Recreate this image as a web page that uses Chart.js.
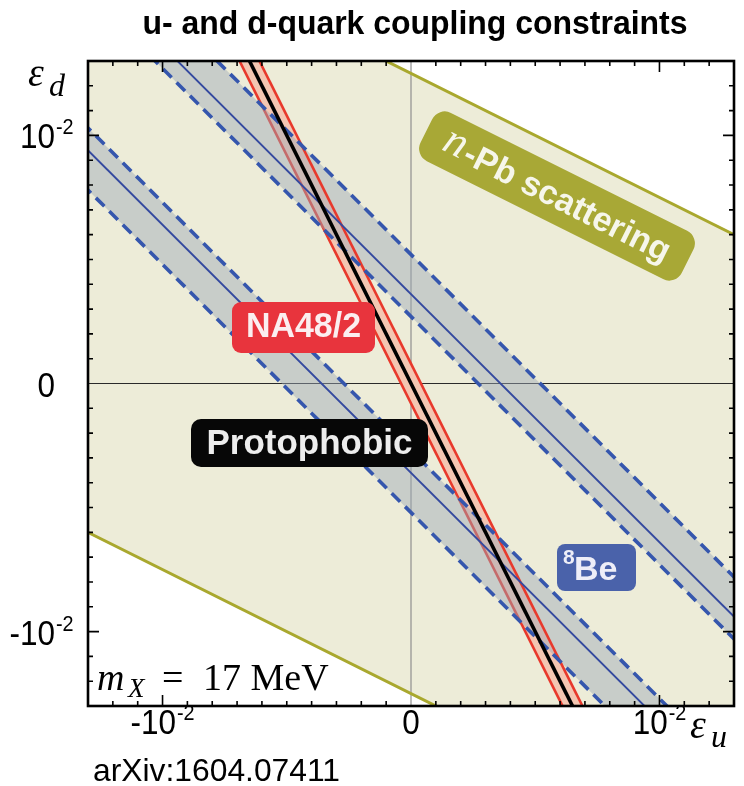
<!DOCTYPE html>
<html>
<head>
<meta charset="utf-8">
<title>u- and d-quark coupling constraints</title>
<script src="https://cdn.jsdelivr.net/npm/chart.js"></script>
<style>
body { margin: 0; background: #fff; }
.canvas_div { width: 744px; height: 786px; }
</style>
</head>
<body>
<div class="canvas_div">
    <canvas id="myChart" width="744" height="786"></canvas>
</div>
<script>
// eps_u at the two ends of every line (beyond the frame, clipped away)
const epsU = [-0.03, 0.03];
// eps_d of each constraint line at those two eps_u values
const nPbLow      = [0.0025, -0.0275];   // n-Pb scattering, lower edge
const nPbHigh     = [0.0275, -0.0025];   // n-Pb scattering, upper edge
const na48Left    = [0.0592, -0.0608];   // NA48/2 edges
const na48Right   = [0.0608, -0.0592];
const protophobic = [0.06, -0.06];
const be8NegOuter  = [0.0248, -0.0352];  // 8Be band, negative side
const be8NegCenter = [0.0264, -0.0336];
const be8NegInner  = [0.0273, -0.0327];
const be8PosInner  = [0.0327, -0.0273];  // 8Be band, positive side
const be8PosCenter = [0.0336, -0.0264];
const be8PosOuter  = [0.0352, -0.0248];
// axis range and labelled ticks
const axisMin = -0.013, axisMax = 0.013;
const tickValues = [-0.01, 0, 0.01];
const tickBase = ['-10', '0', '10'];
const tickExp  = ['-2', '', '-2'];

const BEIGE = '#edecd8';
const OLIVE = '#a9a82e';
const PINK  = '#f4c6b2';
const RED   = '#e8392c';
const GRAY  = 'rgba(155,168,185,0.45)';
const BLUE  = '#3556ad';

const pts = arr => epsU.map((u, i) => ({x: u, y: arr[i]}));

const dash = {borderColor: BLUE, borderWidth: 3.6, borderDash: [12, 7]};
const datasets = [
    {data: pts(nPbLow)},                                            // 0
    {data: pts(nPbHigh), fill: 0, backgroundColor: BEIGE},          // 1
    {data: pts(na48Left)},                                          // 2
    {data: pts(na48Right), fill: 2, backgroundColor: PINK},         // 3
    {data: pts(na48Left), borderColor: RED, borderWidth: 2.6},      // 4
    {data: pts(be8NegOuter)},                                       // 5
    {data: pts(be8NegInner), fill: 5, backgroundColor: GRAY},       // 6
    {data: pts(be8PosInner)},                                       // 7
    {data: pts(be8PosOuter), fill: 7, backgroundColor: GRAY},       // 8
    {data: pts(nPbLow), borderColor: OLIVE, borderWidth: 3},
    {data: pts(nPbHigh), borderColor: OLIVE, borderWidth: 3},
    {data: pts(na48Right), borderColor: RED, borderWidth: 2.6},
    {data: pts(be8NegCenter), borderColor: '#34499f', borderWidth: 1.9},
    {data: pts(be8PosCenter), borderColor: '#34499f', borderWidth: 1.9},
    Object.assign({data: pts(be8NegOuter)}, dash),
    Object.assign({data: pts(be8NegInner)}, dash),
    Object.assign({data: pts(be8PosInner)}, dash),
    Object.assign({data: pts(be8PosOuter)}, dash),
    {data: pts(protophobic), borderColor: '#000', borderWidth: 3.6}
];
datasets.forEach(function(d, i) {
    d.order = datasets.length - i;   // first in list is drawn first (lowest)
    d.pointRadius = 0;
    d.clip = 0;
    d.tension = 0;
    if (d.fill === undefined) d.fill = false;
    if (d.borderWidth === undefined) { d.borderWidth = 0; d.borderColor = 'transparent'; }
});

// text helper, sx squeezes horizontally
function txt(ctx, s, x, y, font, color, align, sx) {
    sx = sx || 1;
    ctx.save();
    ctx.font = font;
    ctx.fillStyle = color;
    ctx.textAlign = 'left';
    ctx.textBaseline = 'alphabetic';
    const w = ctx.measureText(s).width * sx;
    const x0 = align === 'center' ? x - w / 2 : (align === 'right' ? x - w : x);
    ctx.translate(x0, y);
    ctx.scale(sx, 1);
    ctx.fillText(s, 0, 0);
    ctx.restore();
    return w;
}
function fitSx(ctx, s, font, width) {
    ctx.save();
    ctx.font = font;
    const w = ctx.measureText(s).width;
    ctx.restore();
    return width / w;
}
function box(ctx, x, y, w, h, r, color) {
    ctx.beginPath();
    ctx.roundRect(x, y, w, h, r);
    ctx.fillStyle = color;
    ctx.fill();
}

const SANS = '"Liberation Sans", Arial, sans-serif';
const SERIF = '"Liberation Serif", "Times New Roman", serif';

const decor = {
    id: 'decor',
    beforeDatasetDraw(chart, args) {
        if (args.index !== 2) return;   // right after the n-Pb fill
        const {ctx, chartArea: a, scales: {x, y}} = chart;
        ctx.save();
        ctx.lineWidth = 1.2;
        ctx.strokeStyle = '#8f8f8f';
        const x0 = x.getPixelForValue(0);
        ctx.beginPath(); ctx.moveTo(x0, a.top); ctx.lineTo(x0, a.bottom); ctx.stroke();
        ctx.strokeStyle = '#2a2a2a';
        const y0 = y.getPixelForValue(0);
        ctx.beginPath(); ctx.moveTo(a.left, y0); ctx.lineTo(a.right, y0); ctx.stroke();
        ctx.restore();
    },
    afterDraw(chart) {
        const {ctx, chartArea: a, scales: {x, y}} = chart;
        ctx.save();

        // label boxes
        box(ctx, 232, 302, 143, 51, 9, '#e8343d');
        txt(ctx, 'NA48/2', 303.5, 337, 'bold 35px ' + SANS, '#fbeef0', 'center', 0.97);

        box(ctx, 191, 419, 237, 48, 10, '#070707');
        txt(ctx, 'Protophobic', 309.5, 454, 'bold 35px ' + SANS, '#ededed', 'center', 1.0);

        box(ctx, 557, 544, 79, 47, 8, '#4a62aa');
        txt(ctx, '8', 563, 563.5, 'bold 21px ' + SANS, '#eeeef8', 'left');
        txt(ctx, 'Be', 574, 579.5, 'bold 34px ' + SANS, '#eeeef8', 'left');

        // n-Pb box rotated along the n-Pb edge
        const ang = Math.atan2(y.getPixelForValue(nPbHigh[1]) - y.getPixelForValue(nPbHigh[0]),
                               x.getPixelForValue(epsU[1]) - x.getPixelForValue(epsU[0]));
        ctx.save();
        ctx.translate(557, 196);
        ctx.rotate(ang);
        box(ctx, -146, -27, 292, 54, 14, '#a8a836');
        ctx.font = 'italic 44px ' + SERIF;
        const wn = ctx.measureText('n').width;
        ctx.font = 'bold 34px ' + SANS;
        const wr = ctx.measureText('-Pb scattering').width;
        const start = -(wn + 2 + wr) / 2;
        txt(ctx, 'n', start, 10, 'italic 44px ' + SERIF, '#f6f6ea', 'left');
        txt(ctx, '-Pb scattering', start + wn + 2, 12, 'bold 34px ' + SANS, '#f6f6ea', 'left');
        ctx.restore();

        // frame
        ctx.strokeStyle = '#000';
        ctx.lineWidth = 2.6;
        ctx.strokeRect(a.left, a.top, a.width, a.height);

        // inward ticks on all sides, minor every 0.001
        ctx.lineWidth = 1.6;
        ctx.beginPath();
        for (let k = -12; k <= 12; k++) {
            if (k === 0) continue;
            const v = k / 1000;
            const len = Math.abs(k) === 10 ? 11 : 5;
            const px = x.getPixelForValue(v), py = y.getPixelForValue(v);
            ctx.moveTo(px, a.top); ctx.lineTo(px, a.top + len);
            ctx.moveTo(px, a.bottom); ctx.lineTo(px, a.bottom - len);
            ctx.moveTo(a.left, py); ctx.lineTo(a.left + len, py);
            ctx.moveTo(a.right, py); ctx.lineTo(a.right - len, py);
        }
        ctx.stroke();

        // tick labels
        const bF = '35px ' + SANS, eF = '22px ' + SANS, sq = 0.9;
        tickValues.forEach(function(v, i) {
            const py = y.getPixelForValue(v);
            txt(ctx, tickBase[i], 55, py + 13, bF, '#000', 'right', sq);
            if (tickExp[i]) txt(ctx, tickExp[i], 56, py - 1, eF, '#000', 'left', sq);

            const px = x.getPixelForValue(v);
            ctx.font = bF;
            const bw = ctx.measureText(tickBase[i]).width * sq;
            ctx.font = eF;
            const ew = tickExp[i] ? ctx.measureText(tickExp[i]).width * sq + 1 : 0;
            const x0 = px - (bw + ew) / 2;
            txt(ctx, tickBase[i], x0, a.bottom + 28, bF, '#000', 'left', sq);
            if (tickExp[i]) txt(ctx, tickExp[i], x0 + bw + 1, a.bottom + 14, eF, '#000', 'left', sq);
        });

        // axis names
        txt(ctx, 'ε', 28, 86, 'italic 40px ' + SERIF, '#000', 'left');
        txt(ctx, 'd', 49, 96, 'italic 32px ' + SERIF, '#000', 'left');
        txt(ctx, 'ε', 690, 738, 'italic 40px ' + SERIF, '#000', 'left');
        txt(ctx, 'u', 711, 747, 'italic 32px ' + SERIF, '#000', 'left');

        // mass label
        txt(ctx, 'm', 97, 690, 'italic 38px ' + SERIF, '#000', 'left');
        txt(ctx, 'X', 128, 697, 'italic 27px ' + SERIF, '#000', 'left');
        txt(ctx, '=', 162, 690, '38px ' + SERIF, '#000', 'left');
        txt(ctx, '17 MeV', 203, 690, '38px ' + SERIF, '#000', 'left');

        // title and reference
        const tF = 'bold 33px ' + SANS;
        txt(ctx, 'u- and d-quark coupling constraints', 415, 34, tF, '#000', 'center',
            fitSx(ctx, 'u- and d-quark coupling constraints', tF, 545));
        const rF = '32px ' + SANS;
        txt(ctx, 'arXiv:1604.07411', 93, 781, rF, '#000', 'left', fitSx(ctx, 'arXiv:1604.07411', rF, 247));

        ctx.restore();
    }
};

const config = {
    type: 'line',
    data: {datasets: datasets},
    options: {
        responsive: false,
        animation: false,
        events: [],
        layout: {padding: {left: 88, top: 61, right: 10, bottom: 80}},
        scales: {
            x: {type: 'linear', min: axisMin, max: axisMax, display: false},
            y: {type: 'linear', min: axisMin, max: axisMax, display: false}
        },
        plugins: {
            legend: {display: false},
            tooltip: {enabled: false},
            filler: {drawTime: 'beforeDatasetDraw', propagate: false}
        }
    },
    plugins: [decor]
};

const myChart = new Chart(document.getElementById('myChart'), config);
</script>
</body>
</html>
